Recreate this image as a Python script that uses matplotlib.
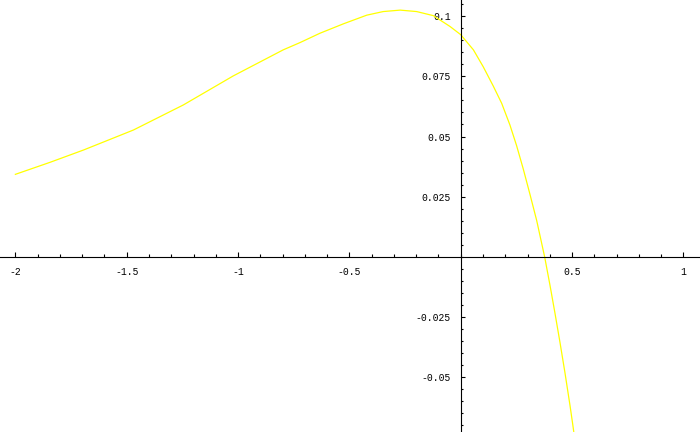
import matplotlib
matplotlib.use("Agg")
import matplotlib.pyplot as plt
from matplotlib.ticker import MultipleLocator, FixedLocator

# values
x_vals = [-2.0, -1.844, -1.694, -1.470, -1.246, -1.021, -0.797, -0.722, -0.632,
          -0.527, -0.422, -0.348, -0.272, -0.198, -0.123, -0.048, 0.0, 0.057,
          0.101, 0.146, 0.184, 0.221, 0.251, 0.281, 0.311, 0.341, 0.377, 0.401,
          0.423, 0.446, 0.468, 0.491, 0.503, 0.512]
y_vals = [0.0343, 0.0393, 0.0444, 0.0527, 0.0631, 0.0752, 0.0860, 0.0890, 0.0929,
          0.0968, 0.1004, 0.1019, 0.1025, 0.1019, 0.1002, 0.0957, 0.0923, 0.0860,
          0.0790, 0.0710, 0.0638, 0.0548, 0.0462, 0.0365, 0.0260, 0.0152, 0.0, -0.0118,
          -0.0232, -0.0356, -0.0480, -0.0618, -0.0695, -0.0755]

x_ticks = [-2, -1.5, -1, -0.5, 0.5, 1]
x_labels = ["-2", "-1.5", "-1", "-0.5", "0.5", "1"]
y_ticks = [-0.05, -0.025, 0.025, 0.05, 0.075, 0.1]
y_labels = ["-0.05", "-0.025", "0.025", "0.05", "0.075", "0.1"]

fig = plt.figure(figsize=(7, 4.32), dpi=100)
ax = fig.add_axes([0, 0, 1, 1])

ax.plot(x_vals, y_vals, color="#ffff00", linewidth=0.9)

ax.set_xlim(-2.069, 1.0746)
ax.set_ylim(-0.0727, 0.1067)

# axes through the origin
for side in ["top", "right"]:
    ax.spines[side].set_visible(False)
ax.spines["left"].set_position(("data", 0))
ax.spines["bottom"].set_position(("data", 0))
for side in ["left", "bottom"]:
    ax.spines[side].set_linewidth(0.8)
    ax.spines[side].set_color("black")

ax.xaxis.set_major_locator(FixedLocator(x_ticks))
ax.set_xticklabels(x_labels)
ax.xaxis.set_minor_locator(MultipleLocator(0.1))
ax.yaxis.set_major_locator(FixedLocator(y_ticks))
ax.set_yticklabels(y_labels)
ax.yaxis.set_minor_locator(MultipleLocator(0.005))

ax.tick_params(which="major", direction="in", length=3.8, width=0.8, pad=7)
ax.tick_params(which="minor", direction="in", length=2.2, width=0.8)
ax.tick_params(axis="y", which="major", length=3.2, pad=7)
ax.tick_params(axis="y", which="minor", length=1.6)

for lab in ax.get_xticklabels() + ax.get_yticklabels():
    lab.set_family("Liberation Mono")
    lab.set_fontsize(7)

fig.savefig("out.png", dpi=100)
